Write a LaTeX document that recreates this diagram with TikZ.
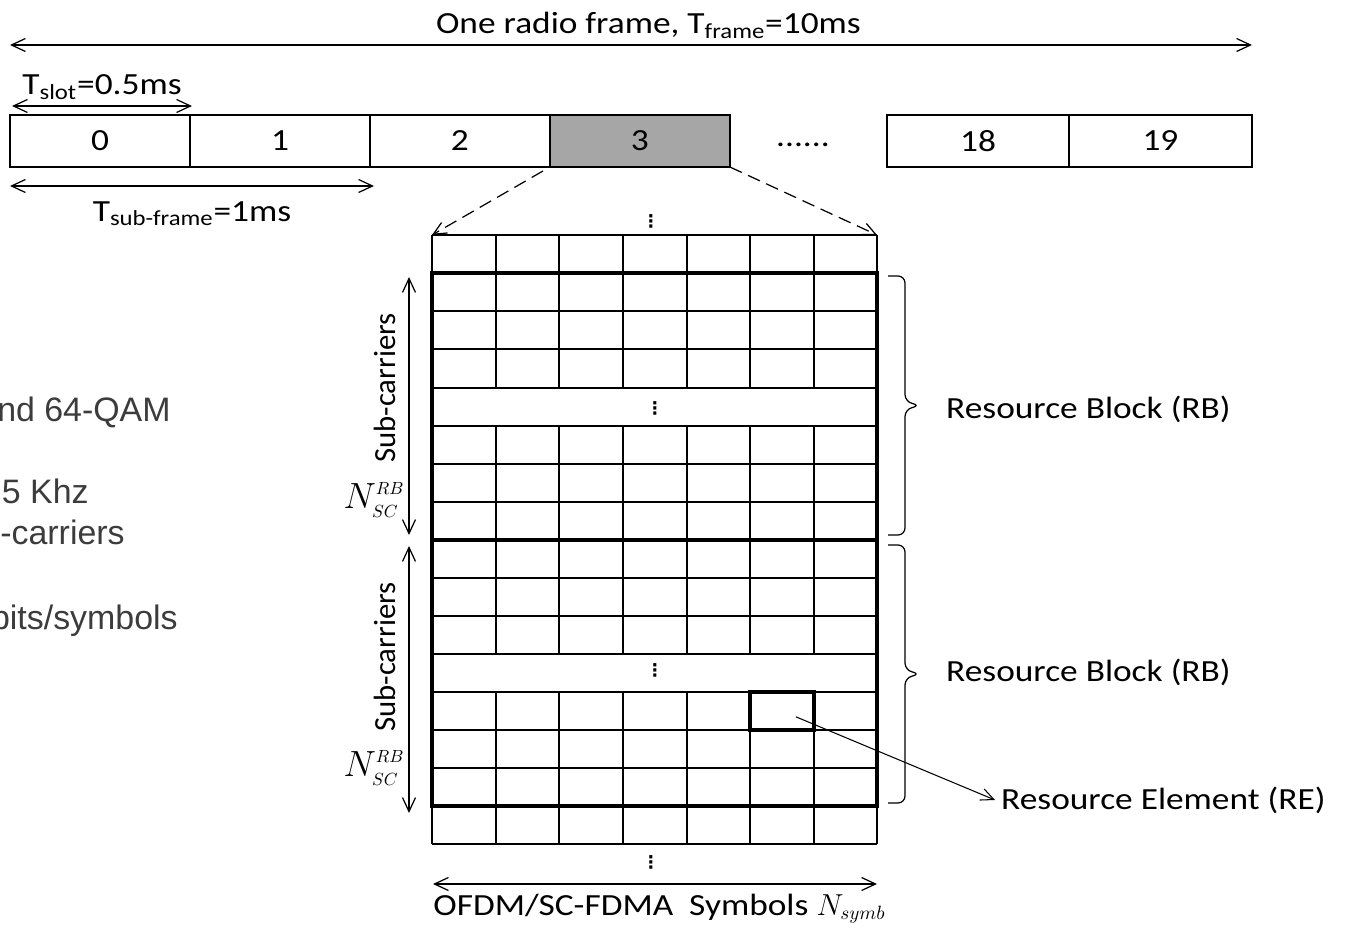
\documentclass[tikz,border=0pt]{standalone}
\usepackage{fontspec}
\setmainfont{Carlito}[FakeStretch=1.15]
\newfontfamily\plainfont{Carlito}
\newfontfamily\cutfont{Liberation Sans}
\newfontfamily\symfont{DejaVu Sans}
\usepackage{xcolor}
\usetikzlibrary{arrows.meta, positioning, calc}
\definecolor{slotgray}{RGB}{166,166,166}
\definecolor{cutgray}{RGB}{60,60,60}

\begin{document}
\begin{tikzpicture}[
  x=0.02cm, y=-0.02cm,
  every node/.style={font=\fontsize{17.5}{21}\selectfont},
  slot/.style={rectangle, draw, line width=0.9pt, minimum width=3.6cm,
               minimum height=1.04cm, inner sep=0pt, outer sep=0pt},
  dim/.style={{Straight Barb[length=0.28cm,width=0.26cm]}-{Straight Barb[length=0.28cm,width=0.26cm]},
              line width=0.7pt},
  zoomln/.style={-{Straight Barb[length=0.26cm,width=0.24cm]}, line width=0.7pt,
                 dash pattern=on 0.26cm off 0.14cm},
  gridln/.style={line width=1pt},
  rbline/.style={line width=2.6pt},
  brk/.style={line width=0.7pt, rounded corners=4pt},
  side/.style={rotate=90, font=\fontsize{17.5}{21}\selectfont\plainfont},
  nsc/.style={font=\fontsize{20}{24}\selectfont},
  cut/.style={anchor=base east, inner sep=0pt, text=cutgray,
              font=\fontsize{19.3}{23}\selectfont\cutfont},
  dotsv/.style={font=\fontsize{10}{12}\selectfont\symfont\bfseries, inner sep=0pt},
]
\useasboundingbox (0,0) rectangle (1345,928);

% cropped slide text on the left
\node[cut] (cqam) at (171,422) {nd 64-QAM};
\node[cut] (ckhz) at (89,504) {5 Khz};
\node[cut] (ccar) at (125,545) {-carriers};
\node[cut] (cbit) at (178,629) {bits/symbols};

% radio frame with its slots
\node[slot] (s0) at (100,141) {0};
\node[slot, right=0pt of s0] (s1) {1};
\node[slot, right=0pt of s1] (s2) {2};
\node[slot, fill=slotgray, right=0pt of s2] (s3) {3};
\node (more) at (803,145) {......};
\node[slot, minimum width=3.64cm] (s18) at (978,141) {18};
\node[slot, minimum width=3.66cm, right=0pt of s18] (s19) {19};

\coordinate (fl) at (10,45);
\coordinate (fr) at (1252,45);
\coordinate (tl) at (12,106);
\coordinate (tr) at (192,106);
\coordinate (sl) at (10,186);
\coordinate (sr) at (374,186);
\draw[dim] (fl) -- node[above, pos=0.514] (frame) {One radio frame, T\textsubscript{frame}=10ms} (fr);
\draw[dim] (tl) -- node[above] (tslot) {T\textsubscript{slot}=0.5ms} (tr);
\draw[dim] (sl) -- node[below=5pt] (tsub) {T\textsubscript{sub-frame}=1ms} (sr);

% resource grid of slot 3
\coordinate (g0l) at (432,235);
\coordinate (g0r) at (877,235);
\draw[zoomln, shorten <=0.16cm] (s3.south west) -- (g0l);
\draw[zoomln] (s3.south east) -- (g0r);

\foreach \y in {235,273,311,349,388,426,464,502,540,578,616,654,692,730,768,806,844}
  \draw[gridln] (432,\y) -- (877,\y);
\foreach \x in {432,496,559,623,687,750,814,877} {
  \draw[gridln] (\x,235) -- (\x,388);
  \draw[gridln] (\x,426) -- (\x,654);
  \draw[gridln] (\x,692) -- (\x,844);
}
\draw[rbline] (432,273) rectangle (877,806);
\draw[rbline] (432,540) -- (877,540);

\node[dotsv] (dtop) at (651,221) {⋮};
\node[dotsv] (dgap1) at (655,408) {⋮};
\node[dotsv] (dgap2) at (655,670) {⋮};
\node[dotsv] (dbot) at (651,862) {⋮};

% sub-carriers of each resource block
\coordinate (sc1t) at (409,277);
\coordinate (sc1b) at (409,535);
\coordinate (sc2t) at (409,546);
\coordinate (sc2b) at (409,813);
\draw[dim] (sc1t) -- (sc1b);
\draw[dim] (sc2t) -- (sc2b);
\node[side] (sub1) at (385,388) {Sub-carriers};
\node[side] (sub2) at (385,657) {Sub-carriers};
\node[nsc] (nsc1) at (374,500) {$N^{\scriptscriptstyle RB}_{\scriptscriptstyle SC}$};
\node[nsc] (nsc2) at (374,768) {$N^{\scriptscriptstyle RB}_{\scriptscriptstyle SC}$};

% resource blocks
\coordinate (b1t) at (888,276);
\coordinate (b1b) at (888,535);
\coordinate (b2t) at (888,545);
\coordinate (b2b) at (888,803);
\coordinate (b1m) at ($(b1t)!0.5!(b1b)$);
\coordinate (b2m) at ($(b2t)!0.5!(b2b)$);
\draw[brk] (b1t) -- ++(17,0) -- ($(b1m)+(17,-4)$) -- ($(b1m)+(32,0)$)
  -- ($(b1m)+(17,4)$) -- ($(b1b)+(17,0)$) -- (b1b);
\draw[brk] (b2t) -- ++(17,0) -- ($(b2m)+(17,-4)$) -- ($(b2m)+(32,0)$)
  -- ($(b2m)+(17,4)$) -- ($(b2b)+(17,0)$) -- (b2b);
\node[anchor=west] (rb1) at (940,409) {Resource Block (RB)};
\node[anchor=west] (rb2) at (940,672) {Resource Block (RB)};

% resource element
\node[draw, rbline, minimum width=1.28cm, minimum height=0.76cm] (re) at (782,711) {};
\node[anchor=west] (relbl) at (995,800) {Resource Element (RE)};
\draw[-{Straight Barb[length=0.26cm,width=0.24cm]}, line width=0.6pt, shorten <=0.3cm]
  (re.center) -- (relbl.west);

% symbols axis
\coordinate (sy1) at (433,884);
\coordinate (sy2) at (877,884);
\draw[dim] (sy1) -- node[below=2pt, pos=0.51] (symb)
  {OFDM/SC-FDMA\ \ Symbols {\fontsize{16}{18}\selectfont$N_{symb}$}} (sy2);
\end{tikzpicture}
\end{document}
